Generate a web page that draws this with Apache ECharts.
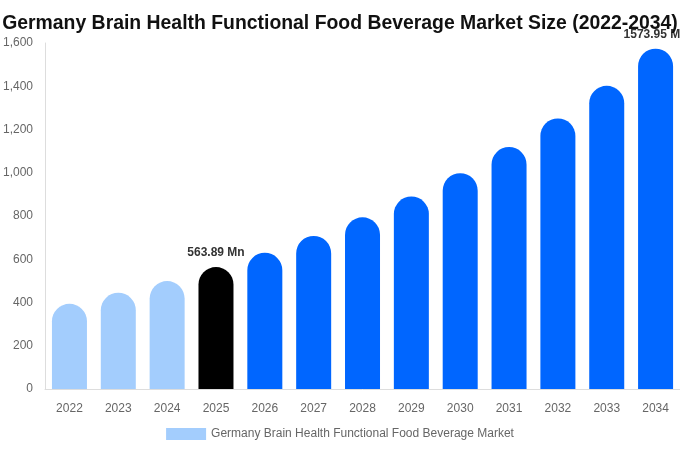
<!DOCTYPE html>
<html><head><meta charset="utf-8">
<script src="https://cdn.jsdelivr.net/npm/echarts@6/dist/echarts.min.js"></script>
<style>html,body{margin:0;padding:0;background:#fff}#c{width:680px;height:450px}</style>
</head><body><div id="c"></div>
<script>
const categories = ['2022','2023','2024','2025','2026','2027','2028','2029','2030','2031','2032','2033','2034'];
const values = [394, 445, 499, 563.89, 630, 708, 794, 890, 998, 1119, 1251, 1402, 1573.95];
const labeledYears = ['2025','2034'];
const seriesName = 'Germany Brain Health Functional Food Beverage Market';
const titleText = 'Germany Brain Health Functional Food Beverage Market Size (2022-2034)';

function colorFor(i){
  const y = +categories[i];
  if (y < 2025) return '#a3cdfd';
  if (y === 2025) return '#000000';
  return '#0066ff';
}
const data = values.map((v,i)=>({
  value: v,
  itemStyle: {color: colorFor(i)},
  label: {show: labeledYears.includes(categories[i])}
}));

const chart = echarts.init(document.getElementById('c'));
chart.setOption({
  animation:false,
  title:{text:titleText,left:'center',top:9,textStyle:{fontFamily:'Liberation Sans, Arial',fontSize:19.4,fontWeight:'bold',color:'#111'}},
  grid:{left:43,right:0,top:43,bottom:61},
  legend:{bottom:5,left:'center',itemWidth:40,itemHeight:12,icon:'rect',
    textStyle:{fontFamily:'Liberation Sans, Arial',fontSize:12,color:'#666'},
    data:[{name:seriesName,itemStyle:{color:'#a3cdfd'}}]},
  xAxis:{type:'category',data:categories,
    axisLine:{lineStyle:{color:'#ddd'}},axisTick:{show:false},
    axisLabel:{color:'#666',fontFamily:'Liberation Sans, Arial',fontSize:12,margin:14}},
  yAxis:{type:'value',min:0,max:1600,interval:200,
    axisLine:{show:true,lineStyle:{color:'#ddd'}},splitLine:{show:false},
    axisLabel:{color:'#666',fontFamily:'Liberation Sans, Arial',fontSize:12,margin:12}},
  series:[{name:seriesName,type:'bar',data:data,barWidth:35,
    itemStyle:{borderRadius:[17.5,17.5,0,0]},
    label:{position:'top',distance:8,color:'#333',fontWeight:'bold',fontSize:12,fontFamily:'Liberation Sans, Arial',
      formatter:p=>p.value.toFixed(2)+' Mn'}}]
});
</script></body></html>
